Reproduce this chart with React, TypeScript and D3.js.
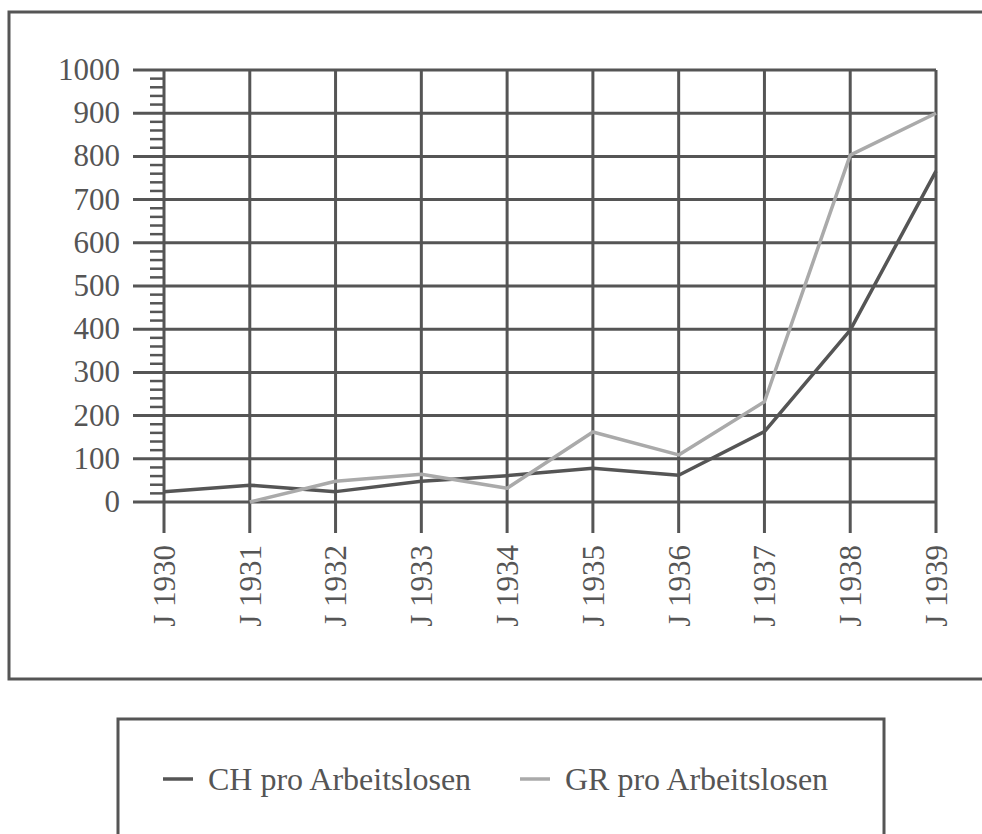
import React from 'react';
import * as d3 from 'd3';

const years = ['J 1930', 'J 1931', 'J 1932', 'J 1933', 'J 1934', 'J 1935', 'J 1936', 'J 1937', 'J 1938', 'J 1939'];
const chValues = [24, 39, 24, 48, 61, 78, 62, 163, 398, 766];
const grValues: (number | null)[] = [null, 0, 48, 64, 32, 162, 109, 232, 803, 900];
const yTicks = [0, 100, 200, 300, 400, 500, 600, 700, 800, 900, 1000];
const minorTicks = d3.range(0, 1001, 20).filter(v => v % 100 !== 0);

const grid = '#555';
const font = "'Times New Roman', 'Liberation Serif', 'DejaVu Serif', serif";

export default function App() {
    const x = d3.scalePoint<string>().domain(years).range([164, 936]);
    const y = d3.scaleLinear().domain([0, 1000]).range([502, 70]);

    const line = d3.line<number | null>()
        .defined(d => d !== null)
        .x((_, i) => x(years[i]) as number)
        .y(d => y(d as number));

    const txt = { fontFamily: font, fill: '#555' };

    return (
        <svg width={982} height={834} style={{ position: 'absolute', left: 0, top: 0 }}>
            <rect x={0} y={0} width={982} height={834} fill="#fff" />
            <rect x={9} y={12} width={1000} height={667} fill="none" stroke={grid} strokeWidth={3} />

            {/* horizontal grid */}
            {yTicks.map(t => (
                <line key={'h' + t} x1={133} x2={936} y1={y(t)} y2={y(t)} stroke={grid} strokeWidth={3} />
            ))}
            {/* vertical grid */}
            {years.map(c => (
                <line key={'v' + c} x1={x(c)} x2={x(c)} y1={y(1000)} y2={533} stroke={grid} strokeWidth={3} />
            ))}
            {/* minor ticks */}
            {minorTicks.map(t => (
                <line key={'m' + t} x1={150} x2={164} y1={y(t)} y2={y(t)} stroke={grid} strokeWidth={2.5} />
            ))}

            {yTicks.map(t => (
                <text key={'yl' + t} x={120} y={y(t)} dy="0.32em" textAnchor="end"
                    style={{ ...txt, fontSize: 31 }}>{t}</text>
            ))}
            {years.map(c => (
                <text key={'xl' + c} transform={`translate(${x(c)},545) rotate(-90)`} dy="0.35em"
                    textAnchor="end" style={{ ...txt, fontSize: 31 }}>{c}</text>
            ))}

            <path d={line(chValues) || ''} fill="none" stroke="#555" strokeWidth={3.5} strokeLinejoin="round" />
            <path d={line(grValues) || ''} fill="none" stroke="#aaa" strokeWidth={3.5} strokeLinejoin="round" />

            {/* legend */}
            <rect x={118} y={719} width={766} height={200} fill="#fff" stroke={grid} strokeWidth={3} />
            <line x1={163} x2={193} y1={779} y2={779} stroke="#555" strokeWidth={3.5} />
            <text x={208} y={790} style={{ ...txt, fontSize: 32 }}>CH pro Arbeitslosen</text>
            <line x1={520} x2={550} y1={779} y2={779} stroke="#aaa" strokeWidth={3.5} />
            <text x={565} y={790} style={{ ...txt, fontSize: 32 }}>GR pro Arbeitslosen</text>
        </svg>
    );
}
